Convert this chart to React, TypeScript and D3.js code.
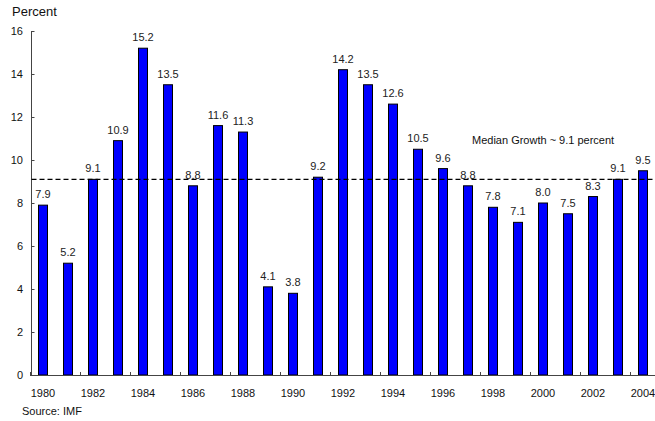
import React from "react";
import * as d3 from "d3";

// Annual real GDP growth, percent
const years: number[] = [
  1980, 1981, 1982, 1983, 1984, 1985, 1986, 1987, 1988, 1989, 1990, 1991, 1992,
  1993, 1994, 1995, 1996, 1997, 1998, 1999, 2000, 2001, 2002, 2003, 2004,
];
const growth: number[] = [
  7.9, 5.2, 9.1, 10.9, 15.2, 13.5, 8.8, 11.6, 11.3, 4.1, 3.8, 9.2, 14.2, 13.5,
  12.6, 10.5, 9.6, 8.8, 7.8, 7.1, 8.0, 7.5, 8.3, 9.1, 9.5,
];
const yTicks: number[] = [0, 2, 4, 6, 8, 10, 12, 14, 16];
const xLabelYears: number[] = years.filter((y) => y % 2 === 0);
const medianGrowth = 9.1;
const medianLabel = "Median Growth ~ 9.1 percent";
const unitLabel = "Percent";
const sourceLabel = "Source: IMF";

const W = 655;
const H = 421;
const FONT = "'Liberation Sans', Arial, Helvetica, sans-serif";

export default function App() {
  const x = d3
    .scaleBand<number>()
    .domain(years)
    .range([30.5, 655.5])
    .paddingInner(0.6)
    .paddingOuter(0.3);
  const y = d3.scaleLinear().domain([0, 16]).range([375, 31]);
  const step = x.step();
  const left = 31.5;
  const x0 = x.range()[0];

  // boundary ticks every two years on the category axis
  const boundaryTicks = d3.range(0, years.length + 1, 2).map((k) => x0 + k * step);

  return (
    <svg
      width={W}
      height={H}
      style={{ position: "absolute", left: 0, top: 0, background: "#fff" }}
      fontFamily={FONT}
    >
      <text x={12} y={16} fontSize={13} fill="#111">
        {unitLabel}
      </text>

      {/* value axis */}
      <line x1={left} x2={left} y1={y(16)} y2={y(0)} stroke="#444" strokeWidth={1} />
      {yTicks.map((t) => (
        <g key={t}>
          <line x1={left} x2={left + 3} y1={Math.round(y(t)) + 0.5} y2={Math.round(y(t)) + 0.5} stroke="#444" />
          <text x={23} y={y(t)} dy="0.36em" textAnchor="end" fontSize={11} fill="#111">
            {t}
          </text>
        </g>
      ))}

      {/* bars */}
      {years.map((yr, i) => (
        <g key={yr}>
          <rect
            x={(x(yr) as number) + 0.5}
            y={y(growth[i])}
            width={x.bandwidth() - 1}
            height={y(0) - y(growth[i])}
            fill="#0000ff"
            stroke="#000"
            strokeWidth={1}
          />
          <text
            x={(x(yr) as number) + x.bandwidth() / 2}
            y={y(growth[i]) - 7}
            textAnchor="middle"
            fontSize={11}
            fill="#222"
          >
            {growth[i].toFixed(1)}
          </text>
        </g>
      ))}

      {/* category axis */}
      <line x1={30} x2={W} y1={375.5} y2={375.5} stroke="#444" strokeWidth={1} />
      {boundaryTicks.map((bx, i) => (
        <line key={i} x1={bx} x2={bx} y1={375.5} y2={372} stroke="#444" />
      ))}
      {xLabelYears.map((yr) => (
        <text
          key={yr}
          x={(x(yr) as number) + x.bandwidth() / 2}
          y={397}
          textAnchor="middle"
          fontSize={11}
          fill="#111"
        >
          {yr}
        </text>
      ))}

      {/* median reference line */}
      <line
        x1={left}
        x2={W}
        y1={y(medianGrowth)}
        y2={y(medianGrowth)}
        stroke="#000"
        strokeWidth={1.2}
        strokeDasharray="5,3"
      />
      <text x={472} y={144} fontSize={11} fill="#111">
        {medianLabel}
      </text>

      <text x={22} y={415} fontSize={11} fill="#111">
        {sourceLabel}
      </text>
    </svg>
  );
}
